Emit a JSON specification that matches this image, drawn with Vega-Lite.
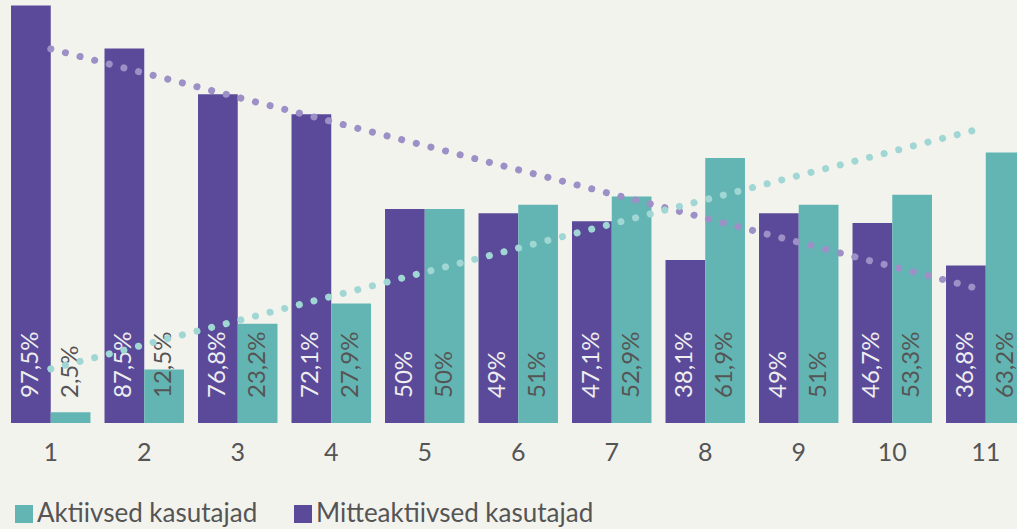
{
  "$schema": "https://vega.github.io/schema/vega-lite/v6.json",
  "width": 1017,
  "height": 423,
  "autosize": {"type": "none"},
  "padding": {"left": 0, "top": 0, "right": 0, "bottom": 106},
  "background": "#f3f3ee",
  "config": {"view": {"stroke": null}, "font": "Lato"},
  "data": {
    "values": [
      {"group": 1, "series": "Mitteaktiivsed kasutajad", "value": 97.5, "label": "97,5%"},
      {"group": 1, "series": "Aktiivsed kasutajad", "value": 2.5, "label": "2,5%"},
      {"group": 2, "series": "Mitteaktiivsed kasutajad", "value": 87.5, "label": "87,5%"},
      {"group": 2, "series": "Aktiivsed kasutajad", "value": 12.5, "label": "12,5%"},
      {"group": 3, "series": "Mitteaktiivsed kasutajad", "value": 76.8, "label": "76,8%"},
      {"group": 3, "series": "Aktiivsed kasutajad", "value": 23.2, "label": "23,2%"},
      {"group": 4, "series": "Mitteaktiivsed kasutajad", "value": 72.1, "label": "72,1%"},
      {"group": 4, "series": "Aktiivsed kasutajad", "value": 27.9, "label": "27,9%"},
      {"group": 5, "series": "Mitteaktiivsed kasutajad", "value": 50, "label": "50%"},
      {"group": 5, "series": "Aktiivsed kasutajad", "value": 50, "label": "50%"},
      {"group": 6, "series": "Mitteaktiivsed kasutajad", "value": 49, "label": "49%"},
      {"group": 6, "series": "Aktiivsed kasutajad", "value": 51, "label": "51%"},
      {"group": 7, "series": "Mitteaktiivsed kasutajad", "value": 47.1, "label": "47,1%"},
      {"group": 7, "series": "Aktiivsed kasutajad", "value": 52.9, "label": "52,9%"},
      {"group": 8, "series": "Mitteaktiivsed kasutajad", "value": 38.1, "label": "38,1%"},
      {"group": 8, "series": "Aktiivsed kasutajad", "value": 61.9, "label": "61,9%"},
      {"group": 9, "series": "Mitteaktiivsed kasutajad", "value": 49, "label": "49%"},
      {"group": 9, "series": "Aktiivsed kasutajad", "value": 51, "label": "51%"},
      {"group": 10, "series": "Mitteaktiivsed kasutajad", "value": 46.7, "label": "46,7%"},
      {"group": 10, "series": "Aktiivsed kasutajad", "value": 53.3, "label": "53,3%"},
      {"group": 11, "series": "Mitteaktiivsed kasutajad", "value": 36.8, "label": "36,8%"},
      {"group": 11, "series": "Aktiivsed kasutajad", "value": 63.2, "label": "63,2%"}
    ]
  },
  "layer": [
    {
      "mark": {"type": "bar"},
      "encoding": {
        "x": {
          "field": "group", "type": "ordinal",
          "scale": {"range": [4, 1032.5], "paddingInner": 0.15, "paddingOuter": 0.075},
          "axis": {"title": null, "labelAngle": 0, "domain": false, "ticks": false, "labelFontSize": 25, "labelColor": "#555555", "labelPadding": 17, "labelFont": "Lato", "grid": false}
        },
        "y": {"field": "value", "type": "quantitative", "scale": {"domain": [0, 98.8], "nice": false}, "axis": null},
        "xOffset": {"field": "series", "scale": {"domain": ["Mitteaktiivsed kasutajad", "Aktiivsed kasutajad"], "paddingInner": 0, "paddingOuter": 0}},
        "color": {
          "field": "series",
          "scale": {"domain": ["Aktiivsed kasutajad", "Mitteaktiivsed kasutajad"], "range": ["#63b5b3", "#5b4a9a"]},
          "legend": {"orient": "none", "legendX": 11, "legendY": 501, "direction": "horizontal", "title": null, "symbolType": "square", "symbolSize": 324, "labelFontSize": 26, "labelColor": "#555555", "labelFont": "Lato", "labelLimit": 0, "symbolStrokeWidth": 0, "labelOffset": 0, "columnPadding": 32, "padding": 0, "symbolOpacity": 1}
        }
      }
    },
    {
      "mark": {"type": "text", "angle": 270, "align": "left", "baseline": "middle", "dx": 25, "fontSize": 24, "font": "Lato"},
      "encoding": {
        "x": {"field": "group", "type": "ordinal"},
        "xOffset": {"field": "series"},
        "y": {"datum": 0},
        "text": {"field": "label"},
        "color": {"condition": {"test": "datum.series === 'Aktiivsed kasutajad'", "value": "#555555"}, "value": "#eeeeee"}
      }
    },
    {
      "transform": [{"filter": "datum.series === 'Mitteaktiivsed kasutajad'"}, {"regression": "value", "on": "group"}],
      "mark": {"type": "line", "color": "#9c90c6", "strokeWidth": 7, "strokeCap": "round", "strokeDash": [0.1, 15]},
      "encoding": {
        "x": {"field": "group", "type": "ordinal"},
        "y": {"field": "value", "type": "quantitative"}
      }
    },
    {
      "transform": [{"filter": "datum.series === 'Aktiivsed kasutajad'"}, {"regression": "value", "on": "group"}],
      "mark": {"type": "line", "color": "#a0d6d3", "strokeWidth": 7, "strokeCap": "round", "strokeDash": [0.1, 15]},
      "encoding": {
        "x": {"field": "group", "type": "ordinal"},
        "y": {"field": "value", "type": "quantitative"}
      }
    }
  ]
}
